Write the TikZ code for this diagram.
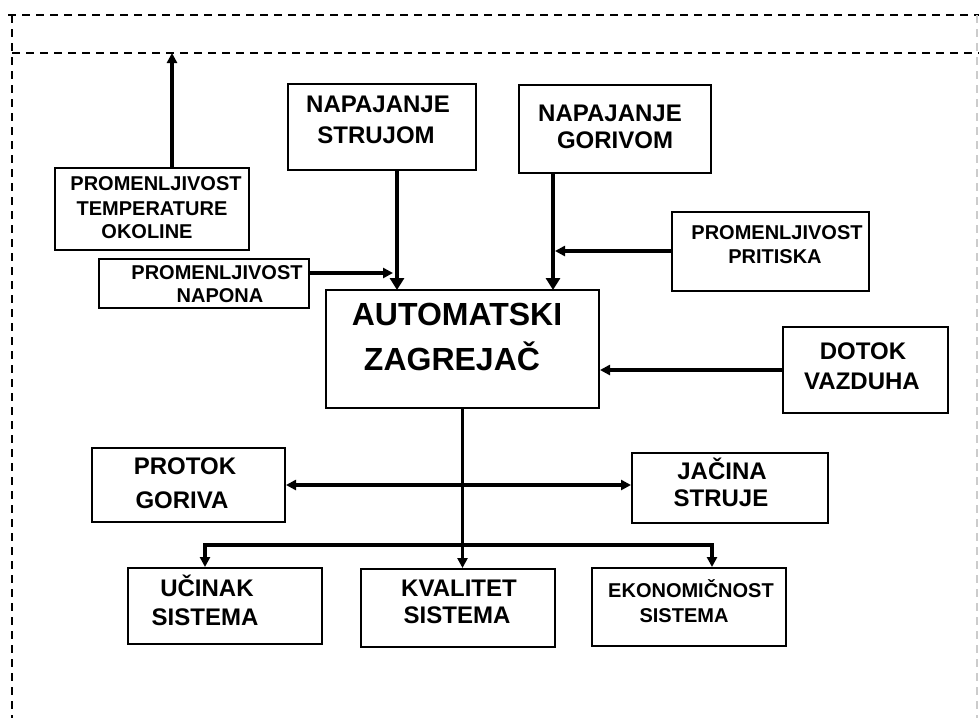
\documentclass[tikz,border=0pt]{standalone}
\usepackage{fontspec}
\setmainfont{Liberation Sans}
\usetikzlibrary{arrows.meta}
\begin{document}
\begin{tikzpicture}[x=1pt,y=-1pt,
  box/.style={draw, line width=2pt, inner sep=0pt},
  lbl/.style={inner sep=0pt, anchor=base, font=\bfseries\fontsize{24}{28}\selectfont},
  mid/.style={inner sep=0pt, anchor=base, font=\bfseries\fontsize{20}{24}\selectfont},
  big/.style={inner sep=0pt, anchor=base, font=\bfseries\fontsize{32}{36}\selectfont},
  dashline/.style={line width=2.6pt, dash pattern=on 8pt off 6pt},
  arr/.style={line width=3.2pt, -{Triangle[length=10pt,width=10pt]}},
  thickarr/.style={line width=4.8pt, -{Triangle[length=12pt,width=14pt]}},
  dblarr/.style={line width=3.2pt, {Triangle[length=10pt,width=10pt]}-{Triangle[length=10pt,width=10pt]}}
]
\useasboundingbox (0,0) rectangle (979,718);

% frame
\coordinate (f1) at (8,15);
\coordinate (f2) at (979,15);
\coordinate (f3) at (12,15);
\coordinate (f4) at (12,718);
\coordinate (f5) at (12,53);
\coordinate (f6) at (979,53);
\coordinate (f7) at (977,15);
\coordinate (f8) at (977,718);
\draw[dashline] (f1) -- (f2);
\draw[dashline] (f3) -- (f4);
\draw[dashline] (f5) -- (f6);
\draw[dashline, gray!40, line width=1.4pt] (f7) -- (f8);

% boxes
\node[box, minimum width=188, minimum height=86] (stru) at (382,127) {};
\node[box, minimum width=192, minimum height=88] (gor) at (615,129) {};
\node[box, minimum width=194, minimum height=82] (temp) at (152,209) {};
\node[box, minimum width=210, minimum height=49] (nap) at (204,283.5) {};
\node[box, minimum width=197, minimum height=79] (prit) at (770.5,251.5) {};
\node[box, minimum width=273, minimum height=118] (zag) at (462.5,349) {};
\node[box, minimum width=165, minimum height=86] (dot) at (865.5,370) {};
\node[box, minimum width=193, minimum height=74] (prot) at (188.5,485) {};
\node[box, minimum width=196, minimum height=70] (jac) at (730,488) {};
\node[box, minimum width=194, minimum height=76] (ucin) at (225,606) {};
\node[box, minimum width=194, minimum height=78] (kval) at (458,608) {};
\node[box, minimum width=194, minimum height=78] (ekon) at (689,607) {};

% texts
\node[lbl] (t1a) at (378,112) {NAPAJANJE};
\node[lbl] (t1b) at (376,143) {STRUJOM};
\node[lbl] (t2a) at (610,121) {NAPAJANJE};
\node[lbl] (t2b) at (615,148) {GORIVOM};
\node[mid] (t3a) at (156,190) {PROMENLJIVOST};
\node[mid] (t3b) at (152,215) {TEMPERATURE};
\node[mid] (t3c) at (147,238) {OKOLINE};
\node[mid] (t4a) at (217,279) {PROMENLJIVOST};
\node[mid] (t4b) at (220,302) {NAPONA};
\node[mid] (t5a) at (777,239) {PROMENLJIVOST};
\node[mid] (t5b) at (775,263) {PRITISKA};
\node[big] (t6a) at (457,325) {AUTOMATSKI};
\node[big] (t6b) at (452,370) {ZAGREJAČ};
\node[lbl] (t7a) at (863,359) {DOTOK};
\node[lbl] (t7b) at (862,389) {VAZDUHA};
\node[lbl] (t8a) at (185,474) {PROTOK};
\node[lbl] (t8b) at (182,508) {GORIVA};
\node[lbl] (t9a) at (722,479) {JAČINA};
\node[lbl] (t9b) at (721,506) {STRUJE};
\node[lbl] (t10a) at (207,596) {UČINAK};
\node[lbl] (t10b) at (205,625) {SISTEMA};
\node[lbl] (t11a) at (459,596) {KVALITET};
\node[lbl] (t11b) at (457,623) {SISTEMA};
\node[mid] (t12a) at (691,597) {EKONOMIČNOST};
\node[mid] (t12b) at (684,622) {SISTEMA};

% connector points
\coordinate (tA) at (172,53);
\coordinate (sA) at (397,290);
\coordinate (gA) at (553,290);
\coordinate (nA) at (393,273);
\coordinate (pA) at (555,251);
\coordinate (bl) at (205,545);
\coordinate (br) at (712,545);

% connectors
\draw[arr] (temp.north -| tA) -- (tA);
\draw[thickarr] (stru.south -| sA) -- (sA);
\draw[thickarr] (gor.south -| gA) -- (gA);
\draw[arr] (nap.east |- nA) -- (nA);
\draw[arr] (prit.west |- pA) -- (pA);
\draw[arr] (dot.west) -- (dot.west -| zag.east);
\draw[arr] (zag.south) -- (zag.south |- kval.north);
\draw[dblarr] (prot.east) -- (prot.east -| jac.west);
\draw[line width=3.6pt] ([xshift=-1.6pt]bl) -- ([xshift=1.6pt]br);
\draw[arr] (bl) -- (bl |- ucin.north);
\draw[arr] (br) -- (br |- ekon.north);
\end{tikzpicture}
\end{document}
